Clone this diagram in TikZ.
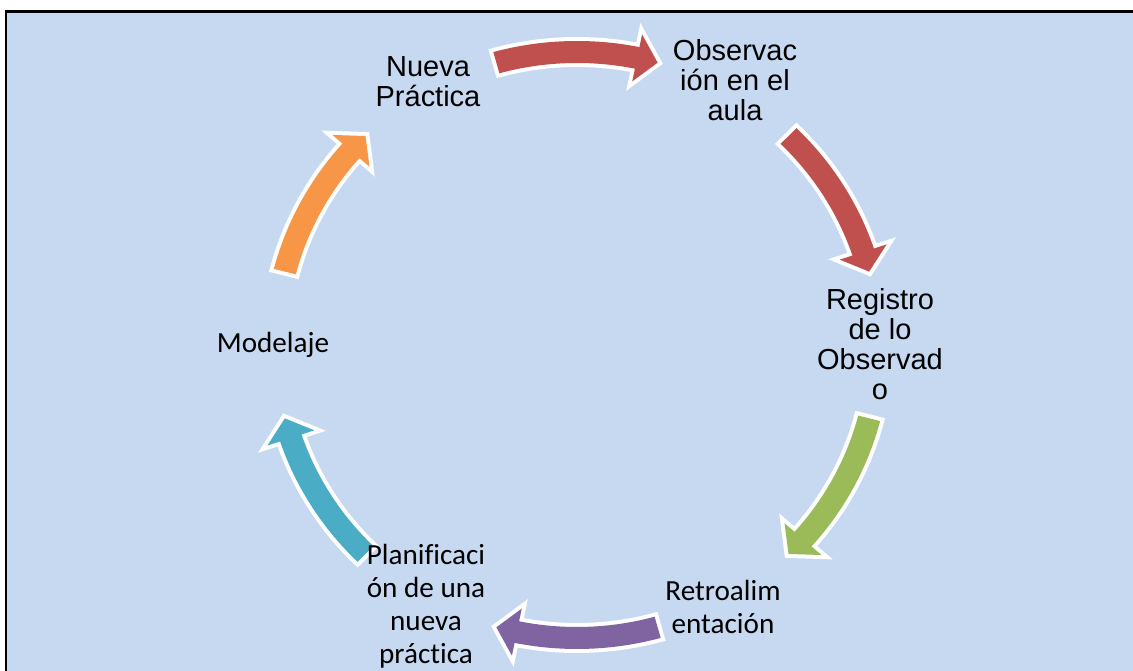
\documentclass[tikz,border=0pt]{standalone}
\usepackage{fontspec}
\setmainfont{Liberation Sans}
\newfontfamily\calibrifont[Ligatures={NoCommon}]{Carlito}
\usepackage{tikz}
\definecolor{bgblue}{HTML}{C6D9F1}
\definecolor{cycred}{HTML}{C0504D}
\definecolor{cycgreen}{HTML}{9BBB59}
\definecolor{cycpurple}{HTML}{8064A2}
\definecolor{cycteal}{HTML}{4BACC6}
\definecolor{cycorange}{HTML}{F79646}

\tikzset{
  steptext/.style={align=center, inner sep=0pt, font=\fontsize{16.5}{17}\selectfont},
  steptextc/.style={align=center, inner sep=0pt, font=\calibrifont\fontsize{16.6}{18.7}\selectfont},
  cycarrow/.style={preaction={draw=white, line width=0.16cm, line join=miter}},
}

% curved arrow, clockwise: colour, tail angle, tip angle
\newcommand{\cyclearrow}[3]{%
  \pgfmathsetmacro\headbase{#3+4}
  \fill[cycarrow, fill=#1] plot[domain=#2:\headbase, samples=30] (\x:304)
    -- (\headbase:317) -- (#3:293) -- (\headbase:269)
    -- plot[domain=\headbase:#2, samples=30] (\x:282) -- cycle;
}

\begin{document}
\begin{tikzpicture}[x=0.02cm, y=0.02cm]
\useasboundingbox (0,0) rectangle (1133,671);
\fill[bgblue] (6,0) rectangle (1133,659);
\draw[black, line width=0.06cm] (6,-5) -- (6,659) -- (1140,659);

\begin{scope}[shift={(577,326)}, xscale=1.03]
\cyclearrow{cycred}{105.5}{74.5}
\cyclearrow{cycred}{45.5}{14.5}
\cyclearrow{cycgreen}{-14.5}{-45.5}
\cyclearrow{cycpurple}{-74.5}{-105.5}
\cyclearrow{cycteal}{-134.5}{-165.5}
\cyclearrow{cycorange}{165.5}{134.5}
\end{scope}

\node[steptext] (nueva) at (428,589) {Nueva\\Práctica};
\node[steptext] (obs) at (735,591) {Observac\\ión en el\\aula};
\node[steptext] (reg) at (880,327) {Registro\\de lo\\Observad\\o};
\node[steptextc] (retro) at (723,64) {Retroalim\\entación};
\node[steptextc] (plan) at (426,65) {Planificaci\\ón de una\\nueva\\práctica};
\node[steptextc] (model) at (273,326) {Modelaje};
\end{tikzpicture}
\end{document}
